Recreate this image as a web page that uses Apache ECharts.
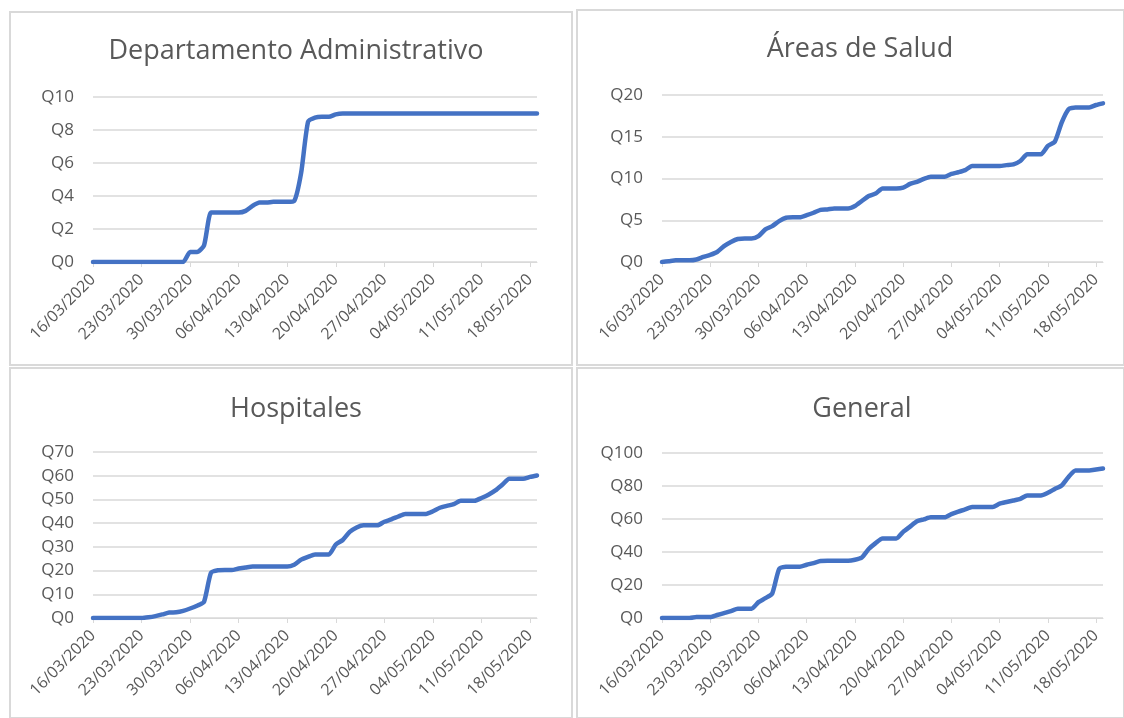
<!DOCTYPE html>
<html>
<head>
<meta charset="utf-8">
<script src="https://cdn.jsdelivr.net/npm/echarts@6/dist/echarts.min.js"></script>
<style>
  html, body { margin: 0; padding: 0; background: #fff; }
  #main { width: 1124px; height: 718px; }
</style>
</head>
<body>
<div id="main"></div>
<script>
// fechas diarias del 16/03 al 19/05
const dates = [
  '16/03/2020','17/03/2020','18/03/2020','19/03/2020','20/03/2020','21/03/2020','22/03/2020',
  '23/03/2020','24/03/2020','25/03/2020','26/03/2020','27/03/2020','28/03/2020','29/03/2020',
  '30/03/2020','31/03/2020','01/04/2020','02/04/2020','03/04/2020','04/04/2020','05/04/2020',
  '06/04/2020','07/04/2020','08/04/2020','09/04/2020','10/04/2020','11/04/2020','12/04/2020',
  '13/04/2020','14/04/2020','15/04/2020','16/04/2020','17/04/2020','18/04/2020','19/04/2020',
  '20/04/2020','21/04/2020','22/04/2020','23/04/2020','24/04/2020','25/04/2020','26/04/2020',
  '27/04/2020','28/04/2020','29/04/2020','30/04/2020','01/05/2020','02/05/2020','03/05/2020',
  '04/05/2020','05/05/2020','06/05/2020','07/05/2020','08/05/2020','09/05/2020','10/05/2020',
  '11/05/2020','12/05/2020','13/05/2020','14/05/2020','15/05/2020','16/05/2020','17/05/2020',
  '18/05/2020','19/05/2020'
]

const titles = ['Departamento Administrativo', 'Áreas de Salud', 'Hospitales', 'General']

const deptAdmin = [
  0, 0, 0, 0, 0, 0, 0, 0, 0, 0, 0, 0, 0, 0, 0.6, 0.6, 1.0, 3.0, 3.0, 3.0,
  3.0, 3.0, 3.1, 3.4, 3.6, 3.6, 3.65, 3.65, 3.65, 3.7, 5.4, 8.5, 8.75, 8.8, 8.8, 8.95,
  9, 9, 9, 9, 9, 9, 9, 9, 9, 9, 9, 9, 9, 9, 9, 9, 9, 9, 9, 9,
  9, 9, 9, 9, 9, 9, 9, 9, 9
]

const areasSalud = [
  0, 0.1, 0.2, 0.2, 0.2, 0.3, 0.6, 0.85, 1.2, 1.9, 2.4, 2.75, 2.8, 2.8, 3.1, 3.9,
  4.3, 4.9, 5.3, 5.35, 5.35, 5.6, 5.9, 6.25, 6.3, 6.4, 6.4, 6.4, 6.7, 7.3, 7.9, 8.2,
  8.8, 8.8, 8.8, 8.9, 9.35, 9.6, 9.95, 10.2, 10.2, 10.2, 10.55, 10.75, 11.0, 11.5, 11.5, 11.5,
  11.5, 11.5, 11.6, 11.7, 12.1, 12.9, 12.9, 12.9, 13.9, 14.4, 16.7, 18.3, 18.5, 18.5, 18.5, 18.8,
  19.0
]

const hospitales = [
  0, 0, 0, 0, 0, 0, 0, 0, 0.3, 0.8, 1.5, 2.3, 2.4, 3.0, 4.0, 5.2,
  6.8, 19.0, 20.1, 20.2, 20.2, 20.9, 21.3, 21.7, 21.7, 21.7, 21.7, 21.7, 21.7, 22.5, 24.6, 25.8,
  26.8, 26.8, 26.8, 31.0, 32.9, 36.3, 38.2, 39.1, 39.1, 39.1, 40.6, 41.6, 42.8, 43.9, 43.9, 43.9,
  43.9, 45.0, 46.5, 47.3, 48.0, 49.4, 49.4, 49.4, 50.6, 52.0, 53.8, 56.2, 58.7, 58.7, 58.7, 59.5,
  60.1
]

const general = [
  0, 0, 0, 0, 0, 0.6, 0.6, 0.6, 1.8, 3.0, 4.2, 5.6, 5.6, 5.6, 9.6, 12.0,
  14.9, 29.7, 31.0, 31.1, 31.1, 32.3, 33.3, 34.5, 34.7, 34.7, 34.7, 34.7, 35.3, 36.7, 41.8, 45.4,
  48.2, 48.2, 48.2, 52.2, 55.4, 58.6, 59.8, 61.0, 61.0, 61.0, 63.0, 64.5, 65.8, 67.3, 67.3, 67.3,
  67.3, 69.3, 70.3, 71.2, 72.2, 74.3, 74.3, 74.3, 75.9, 78.2, 80.3, 85.5, 89.4, 89.4, 89.4, 90.0,
  90.6
]

const yMax = [10, 20, 70, 100]
const yStep = [2, 5, 10, 20]
const seriesData = [deptAdmin, areasSalud, hospitales, general]

const chart = echarts.init(document.getElementById('main'))

// posiciones de cada panel
const grids = [
  { left: 93, top: 97, width: 444, height: 165 },
  { left: 662, top: 95, width: 441, height: 167 },
  { left: 93, top: 452, width: 444, height: 166 },
  { left: 662, top: 453, width: 441, height: 165 }
]
const titlePos = [
  { left: 291, top: 33 },
  { left: 855, top: 31 },
  { left: 291, top: 391 },
  { left: 857, top: 391 }
]
const panels = [
  { x: 10, y: 12, w: 562, h: 353 },
  { x: 577, y: 10, w: 547, h: 355 },
  { x: 10, y: 368, w: 562, h: 350 },
  { x: 577, y: 368, w: 547, h: 350 }
]

const textColor = '#595959'
const fontFam = '"Open Sans", "Noto Sans", sans-serif'

const option = {
  backgroundColor: '#fff',
  animation: false,
  graphic: panels.map(function (p) {
    return {
      type: 'rect',
      shape: { x: p.x, y: p.y, width: p.w, height: p.h },
      style: { fill: 'none', stroke: '#d9d9d9', lineWidth: 2 },
      z: -1
    }
  }),
  title: titles.map(function (t, i) {
    return {
      text: t,
      left: titlePos[i].left,
      top: titlePos[i].top,
      textAlign: 'center',
      textStyle: { color: textColor, fontSize: 27, fontWeight: 'normal', fontFamily: fontFam }
    }
  }),
  grid: grids,
  xAxis: grids.map(function (g, i) {
    return {
      type: 'category',
      gridIndex: i,
      data: dates,
      boundaryGap: false,
      axisLine: { lineStyle: { color: '#d9d9d9', width: 1 } },
      axisTick: { interval: 6, length: 5, lineStyle: { color: '#d9d9d9' } },
      axisLabel: {
        interval: 6,
        rotate: 45,
        color: textColor,
        fontSize: 16,
        fontFamily: fontFam,
        margin: 15
      },
      splitLine: { show: false }
    }
  }),
  yAxis: grids.map(function (g, i) {
    return {
      type: 'value',
      gridIndex: i,
      min: 0,
      max: yMax[i],
      interval: yStep[i],
      axisLine: { show: false },
      axisTick: { show: false },
      axisLabel: {
        formatter: 'Q{value}',
        color: textColor,
        fontSize: 17,
        fontFamily: fontFam,
        margin: 19
      },
      splitLine: { lineStyle: { color: '#d9d9d9', width: 1.5 } }
    }
  }),
  series: seriesData.map(function (d, i) {
    return {
      type: 'line',
      xAxisIndex: i,
      yAxisIndex: i,
      data: d,
      smooth: 0.2,
      symbol: 'none',
      lineStyle: { color: '#4472C4', width: 4.5, cap: 'round', join: 'round' }
    }
  })
}

chart.setOption(option)
</script>
</body>
</html>
